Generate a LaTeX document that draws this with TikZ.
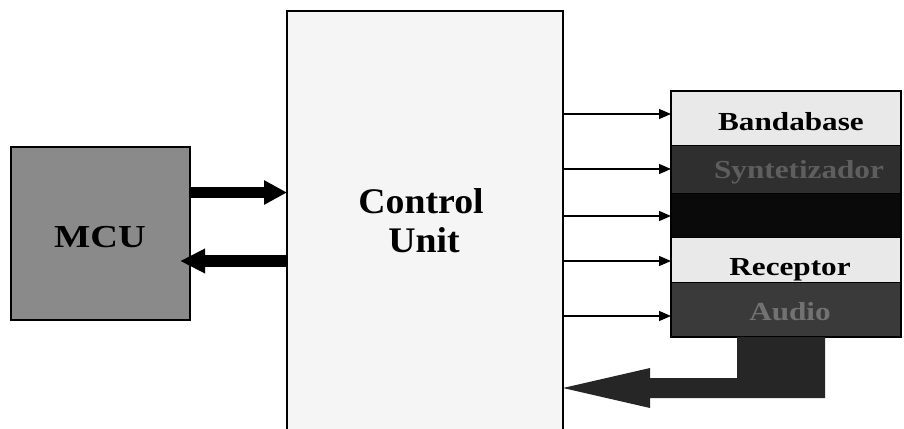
\documentclass[tikz,border=0pt]{standalone}
\usepackage{fontspec}
\setmainfont{Liberation Serif}
\usetikzlibrary{arrows.meta}
\definecolor{mcugray}{HTML}{8A8A8A}
\definecolor{cufill}{HTML}{F5F5F5}
\definecolor{bandlight}{HTML}{E9E9E9}
\definecolor{banddark}{HTML}{2F2F2F}
\definecolor{bandblack}{HTML}{0A0A0A}
\definecolor{bandaudio}{HTML}{3A3A3A}
\definecolor{dimtext}{HTML}{5E5E5E}
\definecolor{audiotext}{HTML}{727272}
\definecolor{returnbus}{HTML}{262626}
\begin{document}
\begin{tikzpicture}[x=1pt,y=-1pt,
  box/.style={draw=black, line width=1.2pt, inner sep=0pt, outer sep=0pt},
  band/.style={draw=black, line width=0.8pt, inner sep=0pt, outer sep=0pt,
    minimum width=230pt, anchor=north west},
  bandlabel/.style={font=\bfseries\fontsize{26}{26}\selectfont, xscale=1.2,
    anchor=base, inner sep=0pt},
  biglabel/.style={font=\bfseries\fontsize{36}{36}\selectfont, xscale=1.05,
    anchor=base, inner sep=0pt},
  bus/.style={line width=11.5pt, -{Triangle[length=23pt,width=23pt]}},
  signal/.style={line width=1.2pt, -{Triangle[length=12pt,width=10pt]}}
]
\useasboundingbox (0,0) rectangle (904,428);

% microcontroller
\node[box, fill=mcugray, minimum width=179pt, minimum height=173pt] (mcu) at (100.5,233.5) {};
\node[bandlabel, font=\bfseries\fontsize{32}{32}\selectfont] (mcutext) at (100,247) {MCU};

% control unit (runs past the lower edge)
\node[box, fill=cufill, minimum width=276pt, minimum height=440pt, anchor=north] (cu) at (425,11) {};
\node[biglabel] (cutop) at (421,213) {Control};
\node[biglabel] (cubot) at (424,252) {Unit};

% radio module: stacked blocks
\node[band, fill=bandlight, minimum height=54pt] (bb) at (671,91) {};
\node[band, fill=banddark, minimum height=48pt] (syn) at (671,145) {};
\node[band, fill=bandblack, minimum height=44pt] (blk) at (671,193) {};
\node[band, fill=bandlight, minimum height=45pt] (rx) at (671,237) {};
\node[band, fill=bandaudio, minimum height=55pt] (aud) at (671,282) {};
\node[box, minimum width=230pt, minimum height=246pt, anchor=north west] (stack) at (671,91) {};

\node[bandlabel] (bbtext) at (791,130) {Bandabase};
\node[bandlabel, text=dimtext] (syntext) at (799,178) {Syntetizador};
\node[bandlabel] (rxtext) at (790,275) {Receptor};
\node[bandlabel, text=audiotext] (audtext) at (790,320) {Audio};

% buses between MCU and control unit
\draw[bus] ([yshift=41pt]mcu.east) -- ([yshift=41pt]mcu.east -| cu.west);
\draw[bus, -{Triangle[length=25pt,width=23pt]}] ([yshift=-27.5pt]mcu.east -| cu.west) -- ([xshift=-10pt,yshift=-27.5pt]mcu.east);

% control lines to the radio module
\foreach \yy [count=\i] in {114,169,216,261,316} {
  \coordinate (s\i) at (0,\yy);
  \draw[signal] (cu.east |- s\i) -- (stack.west |- s\i);
}

% return bus from the audio block
\coordinate (rtip) at (0,388);
\fill[returnbus] (737,337) -- (825,337) -- (825,398) -- (650,398) -- (650,408)
  -- (cu.east |- rtip) -- (650,368) -- (650,378) -- (737,378) -- cycle;
\end{tikzpicture}
\end{document}
